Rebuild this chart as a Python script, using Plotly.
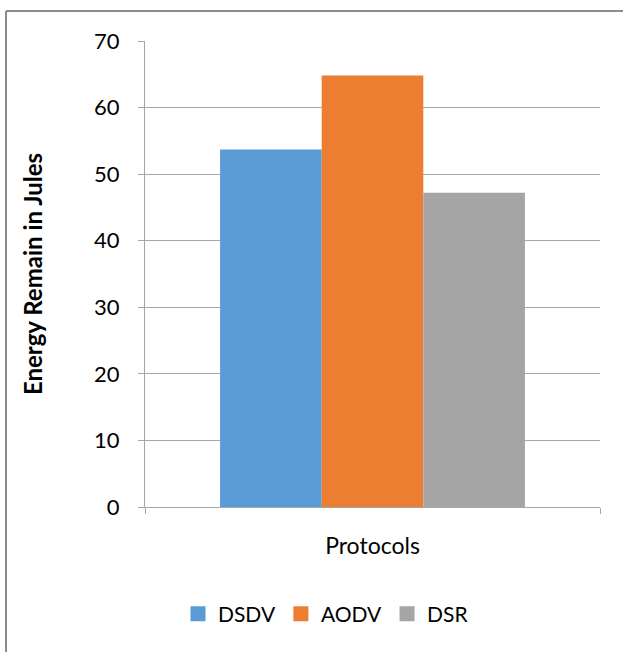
import plotly.graph_objects as go

# Remaining energy per routing protocol
protocols = ["DSDV", "AODV", "DSR"]
energy = [53.7, 64.8, 47.2]
colors = ["#5B9BD5", "#ED7D31", "#A5A5A5"]
category = ["Protocols"]
y_ticks = [0, 10, 20, 30, 40, 50, 60, 70]

FONT = "Lato"

fig = go.Figure()
for name, val, col in zip(protocols, energy, colors):
    fig.add_trace(go.Bar(name=name, x=category, y=[val], marker_color=col,
                         marker_line_width=0, legendgroup=name,
                         showlegend=False))
# Legend entries with larger square swatches
for name, col in zip(protocols, colors):
    fig.add_trace(go.Scatter(name=name, x=[None], y=[None], mode="markers",
                             marker=dict(symbol="square", size=15, color=col),
                             legendgroup=name, showlegend=True))

W, H = 623, 652
L, R, T, B = 145, 23, 41, 145
pw, ph = W - L - R, H - T - B

def px_x(x):
    return (x - L) / pw

def px_y(y):
    return 1 - (y - T) / ph

fig.update_layout(
    width=W, height=H,
    margin=dict(l=L, r=R, t=T, b=B),
    paper_bgcolor="white", plot_bgcolor="white",
    barmode="group", bargap=0.33, bargroupgap=0,
    font=dict(family=FONT, size=22, color="#000000"),
    showlegend=True,
    legend=dict(orientation="h", x=px_x(326), xanchor="center",
                y=px_y(614), yanchor="middle",
                font=dict(family=FONT, size=21), itemwidth=30,
                traceorder="normal"),
    xaxis=dict(range=[-0.5, 0.5], showgrid=False, showline=True,
               linecolor="#A6A6A6", linewidth=1, ticks="outside",
               tickson="boundaries", ticklen=6, tickcolor="#A6A6A6",
               ticklabelstandoff=18, tickfont=dict(size=23)),
    yaxis=dict(range=[0, 70], tickvals=y_ticks, showgrid=True,
               gridcolor="#A6A6A6", gridwidth=1, showline=True,
               linecolor="#A6A6A6", linewidth=1, ticks="outside",
               ticklen=6, tickcolor="#A6A6A6", ticklabelstandoff=14,
               tickfont=dict(size=22), zeroline=False,
               title=dict(text="<b>Energy Remain in Jules</b>",
                          font=dict(family=FONT, size=24), standoff=44)),
    shapes=[
        dict(type="line", xref="paper", yref="paper",
             x0=px_x(6), x1=px_x(6), y0=px_y(11), y1=px_y(700),
             line=dict(color="#8C8C8C", width=2)),
        dict(type="line", xref="paper", yref="paper",
             x0=px_x(6), x1=px_x(700), y0=px_y(11), y1=px_y(11),
             line=dict(color="#8C8C8C", width=2)),
    ],
)

fig.write_html("out.html")
